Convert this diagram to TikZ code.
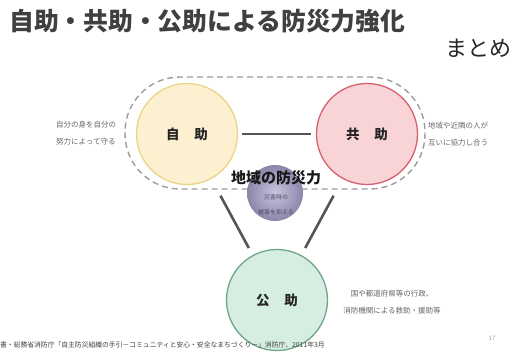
\documentclass[tikz,border=0pt]{standalone}
\usepackage{fontspec}
\newfontfamily\jp{Noto Sans CJK JP}
\usetikzlibrary{shapes.geometric}
\definecolor{titlegray}{HTML}{404040}
\definecolor{yfill}{HTML}{FDF0D0}
\definecolor{ydraw}{HTML}{E9D585}
\definecolor{pfill}{HTML}{F9D4D7}
\definecolor{pdraw}{HTML}{D8606E}
\definecolor{gfill}{HTML}{D6EEE1}
\definecolor{gdraw}{HTML}{6FA587}
\definecolor{ballin}{HTML}{C9C4DD}
\definecolor{ballout}{HTML}{8C85AA}
\definecolor{balltext}{HTML}{4E4868}
\definecolor{dashgray}{HTML}{9C9C9C}
\definecolor{linkgray}{HTML}{555555}
\definecolor{sidegray}{HTML}{666666}
\tikzset{
  helpcircle/.style={circle, minimum size=101pt, inner sep=0pt, line width=1.3pt,
    font=\jp\bfseries\fontsize{13.5}{13.5}\selectfont, text=black!85},
  link/.style={line width=2.6pt, draw=linkgray},
  sidetext/.style={font=\jp\fontsize{7.5}{17}\selectfont, text=sidegray, align=left, inner sep=0pt},
}
\begin{document}
\begin{tikzpicture}[x=1pt,y=-1pt]
\useasboundingbox (0,0) rectangle (528,360);
\fill[white] (0,0) rectangle (528,360);
% title
\node[anchor=west, inner sep=0pt, font=\jp\bfseries\fontsize{24.8}{25}\selectfont, text=titlegray] (title) at (9,21) {自助・共助・公助による防災力強化};
\node[anchor=west, inner sep=0pt, font=\jp\fontsize{22}{22}\selectfont, text=black!85] (matome) at (445,48) {まとめ};
% dashed group
\draw[dashgray, line width=1.4pt, dash pattern=on 6pt off 4pt, rounded corners=55pt] (125,77) rectangle (425,189);
% circles
\node[helpcircle, fill=yfill, draw=ydraw] (jijo) at (187,134) {自\hspace{1.1em}助};
\node[helpcircle, fill=pfill, draw=pdraw] (kyojo) at (367,134) {共\hspace{1.1em}助};
\node[helpcircle, fill=gfill, draw=gdraw] (kojo) at (277,300) {公\hspace{1.1em}助};
% links
\draw[link, shorten <=4pt, shorten >=5pt] (jijo) -- (kyojo);
\draw[link, shorten <=19pt, shorten >=8pt] (jijo) -- (kojo);
\draw[link, shorten <=19pt, shorten >=8pt] (kyojo) -- (kojo);
% center ball
\shade[inner color=ballin, outer color=ballout] (275,193) circle (28pt);
\node[inner sep=0pt, font=\jp\fontsize{6}{15}\selectfont, text=balltext, align=center] (ballnote) at (276,205) {災害時の\\被害を抑える};
\node[inner sep=0pt, font=\jp\bfseries\fontsize{15}{15}\selectfont, text=black!90] (chiiki) at (276,178) {地域の防災力};
% side texts
\node[sidetext, anchor=west] (jijotext) at (56,133) {自分の身を自分の\\努力によって守る};
\node[sidetext, anchor=west] (kyojotext) at (428,134) {地域や近隣の人が\\互いに協力し合う};
\node[sidetext, align=center] (kojotext) at (392,302) {国や都道府県等の行政、\\消防機関による救助・援助等};
% footer
\node[anchor=west, inner sep=0pt, font=\jp\fontsize{6.8}{7}\selectfont, text=black!75] (footer) at (0,345) {書・総務省消防庁「自主防災組織の手引－コミュニティと安心・安全なまちづくり－」消防庁、2011年3月};
\node[inner sep=0pt, font=\jp\fontsize{6}{6}\selectfont, text=black!40] (page) at (492,338) {17};
\end{tikzpicture}
\end{document}
